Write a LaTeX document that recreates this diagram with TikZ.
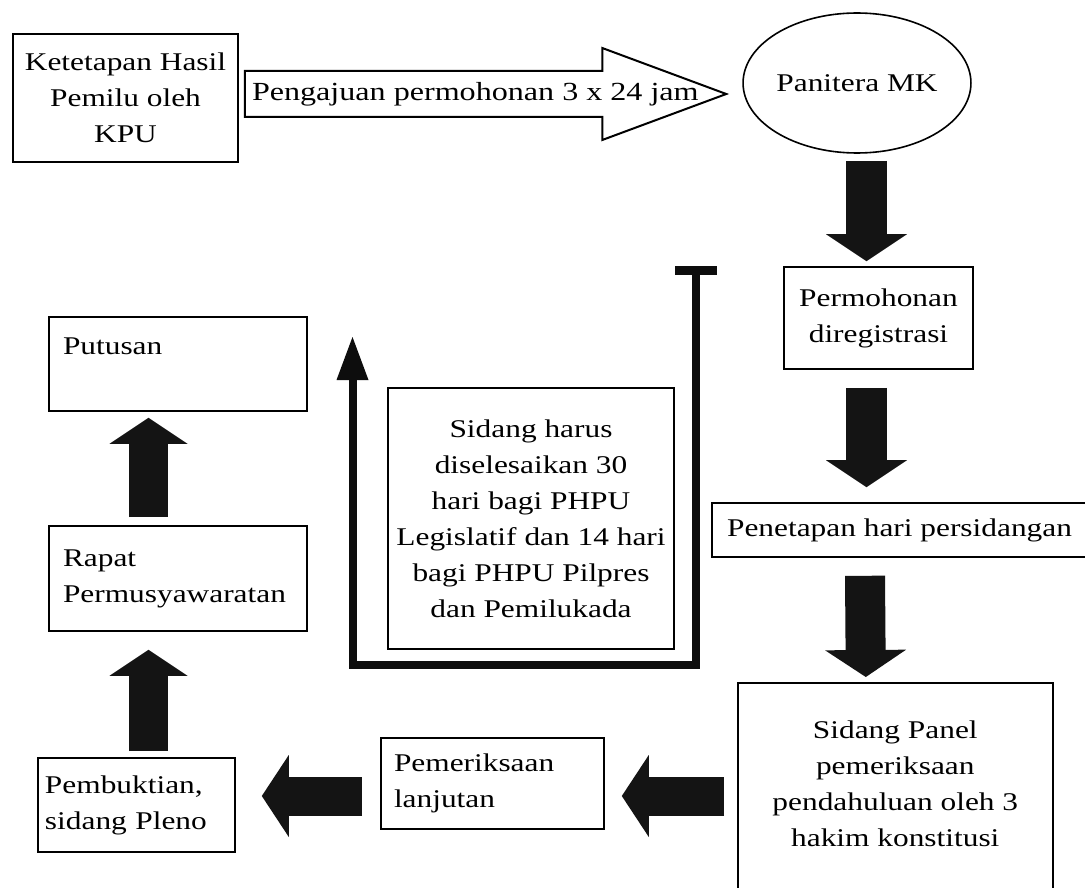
\documentclass[tikz,border=0pt]{standalone}
\usepackage{fontspec}
\setmainfont{Liberation Serif}[FakeStretch=1.23]
\usetikzlibrary{shapes.geometric,arrows.meta,calc}
\newcommand\diafont{\fontsize{25.5}{36}\selectfont}
\begin{document}
\begin{tikzpicture}[x=1pt,y=-1pt,
  box/.style={draw, line width=1.6pt, inner sep=0pt, font=\diafont},
  cbox/.style={box, align=center},
  lbox/.style={box, align=left},
  blkdown/.style={draw=black!92, line width=41pt, -{Triangle[width=81pt,length=27pt,line width=0pt]}},
  blkside/.style={draw=black!92, line width=39pt, -{Triangle[width=82pt,length=27pt,line width=0pt]}},
  blkup/.style={draw=black!92, line width=39pt, -{Triangle[width=78pt,length=26pt,line width=0pt]}},
  hollowarrow/.style={draw, fill=white, line width=2pt, line join=miter},
  bracket/.style={draw=black!95, line width=8pt, line join=miter}
]
\useasboundingbox (0,0) rectangle (1085,888);
\clip (0,0) rectangle (1085,888);
\fill[white] (0,0) rectangle (1085,888);

% nodes
\node[cbox, minimum width=225, minimum height=128] (kpu) at (125.5,98) {Ketetapan Hasil\\Pemilu oleh\\KPU};
\node[draw, ellipse, line width=1.6pt, minimum width=192, minimum height=140, inner sep=0pt, font=\diafont] (panitera) at (857,83) {Panitera MK};
\node[cbox, minimum width=189, minimum height=102] (reg) at (878.5,318) {Permohonan\\diregistrasi};
\node[cbox, minimum width=375, minimum height=54] (tetap) at (899.5,530) {Penetapan hari persidangan};
\node[box, minimum width=315, minimum height=280, anchor=north west] (panel) at (737,682) {};
\node[font=\diafont, align=center, inner sep=0pt, anchor=north] (paneltext) at ($(panel.north)+(0,38.5)$) {Sidang Panel\\pemeriksaan\\pendahuluan oleh 3\\hakim konstitusi};
\node[cbox, minimum width=286, minimum height=261] (harus) at (531,518.5) {Sidang harus\\diselesaikan 30\\hari bagi PHPU\\Legislatif dan 14 hari\\bagi PHPU Pilpres\\dan Pemilukada};
\node[lbox, minimum width=258, minimum height=94, text width=230pt, inner xsep=14pt] (put) at (178,364) {Putusan\\\mbox{}};
\node[lbox, minimum width=258, minimum height=105, text width=230pt, inner xsep=14pt] (rapat) at (178,578.5) {Rapat\\Permusyawaratan};
\node[lbox, minimum width=197, minimum height=94, text width=183pt, inner xsep=7pt] (pemb) at (136.5,805) {Pembuktian,\\sidang Pleno};
\node[lbox, minimum width=223, minimum height=91, text width=197pt, inner xsep=13pt] (pem) at (492.5,783.5) {Pemeriksaan\\lanjutan};

% hollow arrow KPU -> Panitera
\coordinate (hs) at ($(kpu.east)+(6,-4)$);
\coordinate (ht) at ($(panitera.west)+(-16,11)$);
\path[hollowarrow] ($(hs)+(0,-23)$) -- ($(ht)+(-124,-23)$) -- ($(ht)+(-124,-46)$) -- (ht)
  -- ($(ht)+(-124,46)$) -- ($(ht)+(-124,23)$) -- ($(hs)+(0,23)$) -- cycle;
\node[font=\fontsize{26.1}{36}\selectfont, inner sep=0pt, anchor=base west] (pengajuan) at ($(hs)+(7,7)$) {Pengajuan permohonan 3 x 24 jam};

% block arrows
\draw[blkdown] ($(panitera.south)+(9.5,7)$) -- ($(reg.north)+(-12,-5)$);
\draw[blkdown] ($(reg.south)+(-12,18)$) -- ($(tetap.north)+(-33,-15)$);
\draw[blkdown, line width=40pt] ($(tetap.south)+(-34.5,18)$) -- ($(panel.north)+(-29.5,-5)$);
\draw[blkside] ($(panel.north west)+(-13,114)$) -- ($(pem.east)+(17,12.5)$);
\draw[blkside] ($(pem.west)+(-18,12.5)$) -- ($(pemb.east)+(26,-9)$);
\draw[blkup] ($(pemb.north)+(12,-6)$) -- ($(rapat.south)+(-29.5,18)$);
\draw[blkup] ($(rapat.north)+(-29.5,-8)$) -- ($(put.south)+(-29.5,6)$);

% bracket
\coordinate (tb) at (696,270);
\coordinate (br) at (696,665);
\coordinate (bl) at (352.5,665);
\coordinate (btip) at (352.5,337);
\draw[bracket, line width=9pt] ($(tb)+(-21,0)$) -- ($(tb)+(21,0)$);
\draw[bracket, -{Triangle[width=32pt,length=43pt,line width=0pt]}] (tb) -- (br) -- (bl) -- (btip);
\end{tikzpicture}
\end{document}
